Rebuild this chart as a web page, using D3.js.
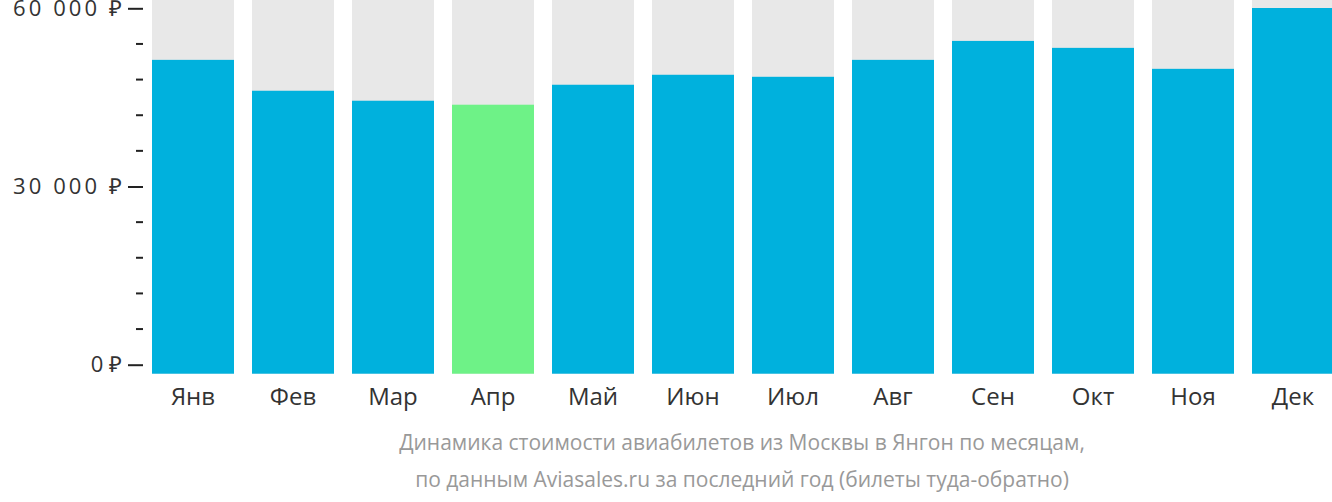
<!DOCTYPE html>
<html><head><meta charset="utf-8">
<script src="https://cdn.jsdelivr.net/npm/d3@7"></script>
<style>body{margin:0;background:#fff}svg{display:block;font-family:"Open Sans",sans-serif}</style>
</head><body>
<svg width="1332" height="502"></svg>
<script>
const months = ['Янв','Фев','Мар','Апр','Май','Июн','Июл','Авг','Сен','Окт','Ноя','Дек'];
const prices = [51320, 46120, 44440, 43770, 47130, 48810, 48470, 51320, 54510, 53340, 49810, 60050];
const cheapest = 'Апр';
const majorTicks = [0, 30000, 60000];
const minorTicks = [6000, 12000, 18000, 24000, 36000, 42000, 48000, 54000];
const captionLines = ['Динамика стоимости авиабилетов из Москвы в Янгон по месяцам,',
  'по данным Aviasales.ru за последний год (билеты туда-обратно)'];

const svg = d3.select('svg');
const y = d3.scaleLinear().domain([0, 60000]).range([364.7, 8.3]);
const x = d3.scaleBand().domain(months).range([143, 1343]).paddingInner(0.18).paddingOuter(0.09);
const barBottom = y(0) + 9;

svg.selectAll('rect.bg').data(months).enter().append('rect')
  .attr('x', d => x(d)).attr('y', 0)
  .attr('width', x.bandwidth()).attr('height', barBottom)
  .attr('fill', '#e8e8e8');

svg.selectAll('rect.bar').data(months).enter().append('rect')
  .attr('x', d => x(d)).attr('y', (d, i) => y(prices[i]))
  .attr('width', x.bandwidth()).attr('height', (d, i) => barBottom - y(prices[i]))
  .attr('fill', d => d === cheapest ? '#6ef287' : '#00b1dd');

const fmt = v => d3.format(',')(v).replace(/,/g, ' ') + ' ₽';
const axis = svg.append('g').attr('transform', 'translate(143,0)');
axis.call(d3.axisLeft(y).tickValues(majorTicks).tickSize(15).tickPadding(6).tickFormat(fmt))
  .call(g => g.select('.domain').remove());
axis.selectAll('.tick line').attr('stroke', '#222').attr('stroke-width', 2);
axis.selectAll('.tick text').attr('fill', '#333').style('font-size', '22px')
  .attr('textLength', function () { return this.textContent.length > 4 ? 109 : null; })
  .style('font-family', '"Open Sans",sans-serif');

svg.selectAll('line.minor').data(minorTicks).enter().append('line')
  .attr('x1', 136).attr('x2', 143).attr('y1', d => y(d)).attr('y2', d => y(d))
  .attr('stroke', '#222').attr('stroke-width', 2);

svg.selectAll('text.month').data(months).enter().append('text')
  .attr('x', d => x(d) + x.bandwidth() / 2).attr('y', 405)
  .attr('text-anchor', 'middle').attr('fill', '#333').style('font-size', '24px')
  .text(d => d);

svg.selectAll('text.caption').data(captionLines).enter().append('text')
  .attr('x', 742).attr('y', (d, i) => 450 + i * 37)
  .attr('text-anchor', 'middle').attr('fill', '#999').style('font-size', '21px')
  .text(d => d);
</script>
</body></html>
